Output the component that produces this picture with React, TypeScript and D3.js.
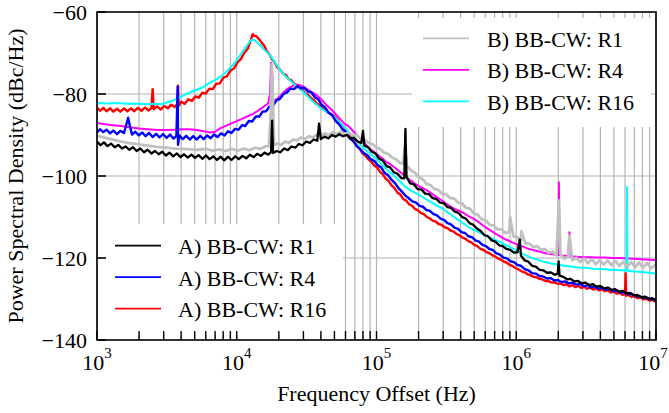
import { useEffect, useRef } from "react";
import * as d3 from "d3";

type Pt = [number, number];

// A) BB-CW traces (frequency Hz, dBc/Hz)
const aR1: Pt[] = [
  [1000, -91.6], [1060, -92.5], [1120, -91.8], [1190, -92.7], [1260, -92.1], [1340, -93.0], [1420, -92.4], [1510, -93.3],
  [1600, -92.8], [1700, -93.6], [1810, -93.0], [1920, -93.9], [2040, -93.3], [2170, -94.2], [2300, -93.6], [2450, -94.5],
  [2600, -93.9], [2760, -94.7], [2930, -94.1], [3110, -95.0], [3300, -94.3], [3510, -95.2], [3730, -94.5], [3960, -95.4],
  [4200, -94.7], [4460, -95.5], [4740, -94.8], [5030, -95.6], [5340, -94.9], [5670, -95.8], [6020, -95.0], [6400, -95.9],
  [6800, -95.2], [7220, -96.1], [7670, -95.3], [8140, -96.2], [8650, -95.3], [9180, -96.1], [9750, -95.2], [10350, -95.9],
  [11000, -95.1], [11700, -95.7], [12400, -94.8], [13200, -95.4], [14000, -94.6], [14900, -95.1], [15800, -94.3], [16800, -94.8],
  [17600, -94.2], [17900, -86.5], [18200, -94.4], [19300, -93.9], [20500, -94.2], [21800, -93.3], [23200, -93.7], [24600, -92.8],
  [26200, -93.1], [27800, -92.2], [29600, -92.5], [31400, -91.6], [33400, -91.9], [35500, -91.1], [37700, -91.4], [38800, -87.2],
  [40000, -91.0], [42500, -90.4], [45200, -90.8], [48000, -90.0], [51000, -90.4], [54200, -89.8], [57600, -90.3], [61200, -90.0],
  [65000, -90.8], [69000, -90.7], [73300, -91.6], [78000, -91.9], [80000, -89.0], [82000, -92.6], [87000, -93.0], [92500, -94.1],
  [98300, -94.5], [104500, -95.8], [111000, -96.2], [118000, -97.6], [125000, -97.9], [133000, -99.1], [141000, -99.4], [150000, -100.5],
  [158000, -100.6], [161000, -88.5], [164000, -100.2], [174000, -101.8], [185000, -102.0], [197000, -103.2], [210000, -103.3], [223000, -104.3],
  [237000, -104.4], [252000, -105.4], [268000, -105.6], [285000, -106.5], [303000, -106.6], [322000, -107.6], [342000, -107.8], [363000, -108.7],
  [386000, -109.0], [410000, -110.0], [436000, -110.4], [463000, -111.5], [492000, -111.9], [523000, -112.8], [556000, -113.4], [591000, -114.4],
  [628000, -114.7], [667000, -115.7], [709000, -116.0], [754000, -116.9], [801000, -117.1], [851000, -117.8], [905000, -118.0], [961000, -118.7],
  [1020000, -118.6], [1060000, -115.5], [1080000, -119.4], [1150000, -120.6], [1220000, -120.9], [1300000, -121.9], [1380000, -122.1], [1470000, -122.9],
  [1560000, -123.0], [1660000, -123.6], [1770000, -123.5], [1880000, -124.1], [1980000, -123.8], [2010000, -120.8], [2040000, -124.3], [2170000, -124.6],
  [2310000, -125.2], [2450000, -125.1], [2610000, -125.7], [2770000, -125.6], [2950000, -126.2], [3130000, -126.0], [3330000, -126.6], [3540000, -126.4],
  [3760000, -127.0], [4000000, -126.8], [4250000, -127.4], [4520000, -127.2], [4800000, -127.8], [5100000, -127.6], [5420000, -128.2], [5760000, -128.0],
  [6120000, -128.6], [6510000, -128.5], [6920000, -129.1], [7350000, -129.0], [7810000, -129.6], [8300000, -129.4], [8820000, -130.0], [9380000, -129.8],
  [10000000, -130.4],
];

const aR4: Pt[] = [
  [1000, -89.4], [1050, -88.6], [1110, -89.3], [1170, -88.7], [1240, -89.6], [1310, -88.9], [1390, -89.8], [1470, -89.0],
  [1560, -89.5], [1620, -87.5], [1670, -85.8], [1720, -87.8], [1780, -89.9], [1880, -89.2], [1990, -90.1], [2110, -89.4],
  [2230, -90.3], [2360, -89.5], [2500, -90.5], [2650, -89.7], [2800, -90.6], [2970, -89.8], [3150, -90.7], [3330, -89.9],
  [3530, -90.9], [3700, -90.2], [3780, -78.2], [3800, -92.4], [3880, -90.1], [4110, -91.0], [4350, -90.2], [4610, -91.1],
  [4880, -90.3], [5170, -91.1], [5480, -90.2], [5800, -91.0], [6140, -90.1], [6500, -90.8], [6880, -89.9], [7290, -90.5],
  [7720, -89.6], [8180, -90.1], [8660, -89.1], [9170, -89.5], [9710, -88.5], [10300, -88.7], [10900, -87.6], [11500, -87.8],
  [12200, -86.6], [12900, -86.7], [13700, -85.5], [14500, -85.5], [15300, -84.3], [16200, -84.2], [17200, -83.0], [18200, -82.8],
  [19300, -81.5], [20400, -81.2], [21600, -80.0], [22900, -79.6], [24200, -78.7], [25700, -78.8], [27200, -78.1], [28800, -78.6],
  [30500, -78.5], [32300, -79.4], [34200, -79.6], [36200, -80.8], [38300, -81.3], [40600, -82.7], [43000, -83.3], [45500, -84.6],
  [48200, -85.2], [51100, -86.6], [54100, -87.4], [57300, -88.7], [60700, -89.4], [64300, -90.8], [68100, -91.5], [72100, -92.7],
  [76400, -93.4], [80900, -94.4], [85700, -94.9], [90800, -95.9], [96200, -96.3], [102000, -97.4], [108000, -97.9], [114000, -99.2],
  [121000, -99.8], [128000, -100.9], [136000, -101.8], [144000, -103.0], [152000, -103.8], [161000, -104.8], [171000, -105.5], [181000, -106.2],
  [192000, -106.5], [203000, -107.3], [215000, -107.5], [228000, -108.3], [241000, -108.5], [256000, -109.3], [271000, -109.6], [287000, -110.4],
  [304000, -110.7], [322000, -111.5], [341000, -111.8], [361000, -112.6], [383000, -112.9], [405000, -113.7], [429000, -113.9], [455000, -114.7],
  [482000, -114.9], [510000, -115.7], [541000, -116.0], [573000, -116.8], [607000, -117.1], [643000, -117.8], [681000, -118.1], [722000, -118.9],
  [765000, -119.2], [810000, -119.9], [858000, -120.1], [909000, -120.8], [963000, -121.0], [1020000, -121.7], [1080000, -121.9], [1150000, -122.7],
  [1220000, -123.0], [1300000, -123.7], [1380000, -123.8], [1470000, -124.4], [1560000, -124.5], [1660000, -125.0], [1760000, -124.9], [1870000, -125.5],
  [1990000, -125.4], [2110000, -125.9], [2240000, -125.7], [2380000, -126.2], [2530000, -126.0], [2690000, -126.5], [2860000, -126.3], [3040000, -126.9],
  [3230000, -126.6], [3430000, -127.2], [3650000, -126.9], [3880000, -127.5], [4120000, -127.2], [4380000, -127.8], [4650000, -127.5], [4940000, -128.1],
  [5250000, -127.9], [5580000, -128.5], [5930000, -128.3], [6300000, -128.9], [6700000, -128.7], [7120000, -129.3], [7570000, -129.2], [8040000, -129.7],
  [8550000, -129.6], [9090000, -130.1], [9660000, -130.0], [10000000, -130.5],
];

const aR16: Pt[] = [
  [1000, -83.3], [1050, -84.1], [1110, -83.4], [1170, -84.2], [1240, -83.5], [1310, -84.3], [1390, -83.6], [1470, -84.3],
  [1560, -83.5], [1650, -84.2], [1750, -83.5], [1850, -84.2], [1960, -83.4], [2080, -84.1], [2200, -83.3], [2330, -84.0],
  [2450, -83.5], [2500, -78.8], [2550, -83.7], [2700, -83.0], [2860, -83.8], [3030, -82.9], [3210, -83.5], [3400, -82.6],
  [3600, -83.2], [3760, -82.4], [3800, -78.0], [3840, -82.9], [4000, -81.9], [4250, -82.4], [4500, -81.3], [4770, -81.7],
  [5050, -80.6], [5350, -80.9], [5670, -79.7], [6000, -79.9], [6360, -78.7], [6740, -78.8], [7140, -77.5], [7570, -77.4],
  [8020, -76.0], [8500, -75.7], [9000, -74.3], [9540, -73.8], [10100, -72.3], [10700, -71.5], [11300, -70.0], [12000, -68.9],
  [12500, -67.2], [13000, -65.4], [13300, -65.8], [13800, -65.9], [14400, -66.6], [15000, -67.4], [15700, -68.2], [16400, -69.6],
  [17100, -70.3], [17900, -71.5], [18700, -72.3], [19500, -73.5], [20400, -74.0], [21400, -75.0], [22400, -75.3], [23400, -76.3],
  [24500, -76.6], [25700, -77.5], [26900, -77.8], [28200, -78.7], [29500, -79.0], [30900, -79.8], [32400, -80.2], [34000, -81.0],
  [35600, -81.5], [37300, -82.3], [39100, -82.7], [41000, -83.5], [43000, -84.0], [45100, -84.5], [47300, -84.9], [49600, -85.4],
  [52000, -86.1], [54500, -87.0], [57100, -87.7], [59900, -88.7], [62800, -89.6], [65800, -90.6], [69000, -91.5], [72300, -92.6],
  [75800, -93.4], [79500, -94.5], [83300, -95.0], [87300, -95.9], [91500, -96.4], [96000, -97.4], [101000, -97.9], [106000, -99.0],
  [111000, -99.6], [116000, -100.6], [122000, -101.2], [128000, -102.3], [134000, -102.9], [141000, -104.0], [148000, -104.5], [155000, -105.6],
  [163000, -106.0], [171000, -106.9], [179000, -107.2], [188000, -108.0], [197000, -108.3], [207000, -109.0], [218000, -109.3], [229000, -110.0],
  [240000, -110.3], [252000, -110.9], [265000, -111.1], [278000, -111.7], [292000, -111.9], [307000, -112.5], [322000, -112.7], [338000, -113.3],
  [355000, -113.5], [373000, -114.1], [392000, -114.4], [411000, -115.0], [432000, -115.3], [454000, -115.9], [477000, -116.2], [501000, -116.8],
  [526000, -117.1], [552000, -117.7], [580000, -118.0], [609000, -118.5], [640000, -118.8], [672000, -119.3], [706000, -119.6], [741000, -120.1],
  [778000, -120.4], [817000, -120.9], [858000, -121.2], [901000, -121.7], [946000, -122.0], [993000, -122.5], [1040000, -122.8], [1100000, -123.3],
  [1150000, -123.5], [1210000, -124.0], [1270000, -124.2], [1330000, -124.6], [1400000, -124.7], [1470000, -125.1], [1540000, -125.2], [1620000, -125.6],
  [1700000, -125.6], [1790000, -126.0], [1880000, -125.9], [1970000, -126.3], [2070000, -126.2], [2170000, -126.6], [2280000, -126.4], [2400000, -126.9],
  [2520000, -126.6], [2640000, -127.1], [2780000, -126.8], [2920000, -127.3], [3060000, -127.0], [3220000, -127.5], [3380000, -127.2], [3550000, -127.7],
  [3720000, -127.4], [3910000, -127.9], [4110000, -127.6], [4310000, -128.1], [4530000, -127.9], [4750000, -128.4], [4990000, -128.2], [5240000, -128.7],
  [5500000, -128.5], [5780000, -129.0], [6000000, -128.8], [6060000, -123.7], [6120000, -129.2], [6370000, -129.0], [6690000, -129.5], [7020000, -129.3],
  [7370000, -129.8], [7740000, -129.6], [8130000, -130.1], [8540000, -129.9], [8960000, -130.4], [9410000, -130.2], [10000000, -130.7],
];

// B) BB-CW traces
const bR1: Pt[] = [
  [1000, -90.2], [1150, -90.7], [1300, -91.1], [1500, -91.6], [1700, -92.0], [2000, -92.3], [2300, -92.6], [2700, -92.9],
  [3100, -93.1], [3600, -93.3], [4100, -93.4], [4700, -93.5], [5300, -93.6], [6000, -93.4], [6700, -93.8], [7500, -93.5],
  [8300, -93.9], [9200, -93.4], [10200, -93.8], [11200, -93.3], [12300, -93.7], [13500, -93.1], [14700, -93.4], [16000, -92.8],
  [17000, -92.7], [17500, -85.0], [17800, -72.8], [18100, -80.0], [18500, -92.5], [19500, -92.1], [20800, -92.4], [22200, -91.6],
  [23700, -91.9], [25300, -91.1], [27000, -91.3], [28800, -90.6], [30700, -91.0], [32800, -90.3], [35000, -90.6], [37400, -89.9],
  [39900, -90.3], [42600, -89.6], [45500, -90.0], [48600, -89.3], [51900, -89.7], [55400, -89.2], [59100, -89.7], [63100, -89.4],
  [67400, -90.1], [71900, -90.0], [76800, -90.9], [82000, -91.1], [87500, -91.9], [93400, -92.2], [99700, -93.0], [106000, -93.4],
  [113000, -94.3], [121000, -94.6], [129000, -95.5], [138000, -95.9], [147000, -96.8], [155000, -97.0], [160000, -92.8], [165000, -97.5],
  [176000, -98.6], [188000, -99.2], [200000, -100.3], [214000, -100.8], [228000, -101.9], [243000, -102.2], [260000, -103.2], [277000, -103.4],
  [296000, -104.4], [316000, -104.5], [337000, -105.4], [360000, -105.5], [384000, -106.5], [410000, -106.7], [437000, -107.8], [467000, -108.0],
  [498000, -109.2], [531000, -109.4], [567000, -110.6], [605000, -110.8], [646000, -111.9], [689000, -112.0], [735000, -113.0], [785000, -113.0],
  [837000, -113.9], [893000, -113.7], [903000, -110.0], [953000, -114.7], [1020000, -114.9], [1080000, -115.8], [1090000, -113.5], [1160000, -116.4],
  [1240000, -116.5], [1320000, -117.3], [1410000, -117.1], [1500000, -118.0], [1600000, -117.8], [1710000, -118.8], [1820000, -118.4], [1940000, -119.4],
  [2020000, -106.0], [2070000, -119.1], [2210000, -120.2], [2360000, -119.6], [2400000, -114.5], [2520000, -120.6], [2690000, -119.9], [2870000, -121.0],
  [3060000, -120.1], [3260000, -121.3], [3480000, -120.3], [3710000, -121.5], [3960000, -120.5], [4220000, -121.6], [4510000, -120.6], [4810000, -121.8],
  [5130000, -120.7], [5470000, -121.9], [5840000, -120.9], [6230000, -122.1], [6650000, -121.0], [7090000, -122.2], [7570000, -121.1], [8070000, -122.4],
  [8610000, -121.2], [9190000, -122.5], [10000000, -121.6],
];

const bR4: Pt[] = [
  [1000, -87.1], [1150, -87.4], [1300, -87.6], [1500, -87.8], [1700, -88.1], [2000, -88.4], [2300, -88.6], [2700, -88.8],
  [3100, -88.8], [3600, -88.7], [4100, -88.6], [4600, -88.6], [5200, -88.8], [5800, -89.1], [6500, -89.4], [7000, -89.2],
  [7600, -88.4], [8200, -87.9], [9000, -87.3], [10000, -86.6], [11000, -86.0], [12000, -85.4], [13000, -84.9], [14000, -84.2],
  [15000, -83.5], [16000, -82.8], [16800, -82.3], [17300, -80.0], [17600, -72.4], [17900, -74.5], [18200, -81.5], [18800, -81.5],
  [19600, -81.1], [20500, -80.5], [21500, -79.7], [22600, -79.0], [23800, -78.4], [25000, -78.1], [26300, -77.7], [27700, -77.8],
  [29100, -78.0], [30600, -78.4], [32200, -78.9], [33900, -79.4], [35700, -79.9], [37600, -80.4], [39600, -81.1], [41700, -81.9],
  [43900, -82.7], [46200, -83.4], [48600, -84.1], [51200, -85.0], [53900, -85.8], [56700, -86.6], [59700, -87.4], [62800, -87.8],
  [66100, -88.6], [69600, -89.4], [73300, -90.2], [77200, -91.0], [81300, -91.9], [85600, -92.7], [90100, -93.4], [94900, -94.0],
  [99900, -94.6], [105000, -95.2], [111000, -95.8], [117000, -96.5], [123000, -97.0], [130000, -97.5], [137000, -98.1], [144000, -98.7],
  [152000, -99.4], [160000, -100.0], [168000, -100.6], [177000, -101.2], [187000, -101.8], [197000, -102.3], [207000, -102.7], [218000, -103.1],
  [230000, -103.5], [242000, -104.0], [255000, -104.6], [269000, -105.1], [283000, -105.6], [298000, -106.1], [314000, -106.7], [331000, -107.2],
  [348000, -107.7], [367000, -108.1], [386000, -108.4], [407000, -108.8], [428000, -109.2], [451000, -109.7], [475000, -110.1], [500000, -110.5],
  [527000, -111.0], [555000, -111.6], [585000, -112.2], [616000, -112.7], [649000, -113.2], [683000, -113.7], [720000, -114.2], [758000, -114.6],
  [798000, -115.1], [841000, -115.5], [886000, -115.8], [933000, -116.2], [982000, -116.5], [1030000, -116.8], [1090000, -117.1], [1150000, -117.4],
  [1210000, -117.7], [1270000, -117.9], [1340000, -118.1], [1410000, -118.3], [1490000, -118.5], [1570000, -118.7], [1650000, -118.9], [1740000, -119.0],
  [1830000, -119.1], [1930000, -119.2], [2000000, -119.3], [2020000, -101.5], [2040000, -119.3], [2150000, -119.4], [2350000, -119.5], [2400000, -113.7],
  [2450000, -119.6], [2700000, -119.7], [3000000, -119.8], [3400000, -119.8], [3800000, -119.9], [4300000, -119.9], [4900000, -120.0], [5500000, -120.0],
  [6200000, -120.1], [7000000, -120.2], [7900000, -120.3], [8900000, -120.4], [10000000, -120.5],
];

const bR16: Pt[] = [
  [1000, -82.2], [1200, -82.3], [1400, -82.2], [1600, -82.4], [1800, -82.3], [2000, -82.4], [2300, -82.5], [2600, -82.4],
  [2900, -82.5], [3200, -82.0], [3500, -81.6], [3900, -80.8], [4300, -80.1], [4700, -79.5], [5200, -78.9], [5700, -78.4],
  [6200, -77.6], [6800, -76.8], [7500, -76.0], [8200, -75.0], [9000, -73.6], [9800, -72.2], [10700, -70.3], [11600, -68.6],
  [12400, -67.2], [12900, -66.7], [13500, -66.9], [14200, -67.6], [15000, -68.4], [15900, -69.4], [16900, -70.2], [17900, -71.2],
  [18900, -72.5], [20000, -73.7], [21200, -74.8], [22500, -75.8], [23900, -76.6], [25300, -77.4], [26900, -78.1], [28500, -78.9],
  [30200, -79.6], [32000, -80.5], [34000, -81.4], [36000, -82.2], [38200, -82.9], [40500, -83.6], [43000, -84.2], [45600, -84.7],
  [48300, -85.2], [51200, -86.0], [54300, -86.9], [57600, -87.8], [61000, -88.6], [64700, -89.6], [68600, -90.6], [72700, -91.5],
  [77100, -92.5], [81700, -93.3], [86600, -94.1], [91800, -94.8], [97300, -95.5], [103000, -96.3], [110000, -97.3], [117000, -98.2],
  [124000, -99.0], [131000, -99.7], [139000, -100.5], [148000, -101.4], [157000, -102.3], [166000, -103.0], [176000, -103.5], [187000, -104.0],
  [199000, -104.5], [211000, -105.0], [224000, -105.6], [238000, -106.1], [252000, -106.6], [268000, -107.1], [285000, -107.6], [302000, -108.1],
  [321000, -108.8], [341000, -109.4], [362000, -110.1], [384000, -110.7], [408000, -111.3], [433000, -111.9], [460000, -112.5], [488000, -113.0],
  [518000, -113.4], [550000, -113.8], [584000, -114.3], [620000, -114.7], [658000, -115.1], [699000, -115.5], [742000, -115.9], [788000, -116.3],
  [836000, -116.8], [888000, -117.2], [943000, -117.7], [1000000, -118.1], [1060000, -118.6], [1130000, -119.1], [1200000, -119.5], [1270000, -119.9],
  [1350000, -120.2], [1440000, -120.5], [1530000, -120.8], [1620000, -121.0], [1720000, -121.2], [1830000, -121.4], [1950000, -121.5], [2070000, -121.7],
  [2200000, -121.9], [2480000, -122.1], [2800000, -122.3], [3150000, -122.4], [3560000, -122.6], [4000000, -122.7], [4500000, -122.8], [5100000, -122.9],
  [5700000, -123.0], [6150000, -123.1], [6200000, -102.7], [6250000, -123.1], [7000000, -123.3], [7900000, -123.4], [8900000, -123.6], [10000000, -123.8],
];

const yTicks = [-140, -120, -100, -80, -60];
const xDecades = [3, 4, 5, 6, 7];
const legendA = ["A) BB-CW: R1", "A) BB-CW: R4", "A) BB-CW: R16"];
const legendB = ["B) BB-CW: R1", "B) BB-CW: R4", "B) BB-CW: R16"];

const FONT = "'Liberation Serif', 'Times New Roman', serif";

const App = () => {
  const svgRef = useRef<SVGSVGElement>(null);

  useEffect(() => {
    const svg = d3.select(svgRef.current);
    svg.selectAll("*").remove();

    const margin = { top: 12, right: 13, bottom: 73, left: 97 };
    const width = 669 - margin.left - margin.right;
    const height = 413 - margin.top - margin.bottom;

    const x = d3.scaleLog().domain([1e3, 1e7]).range([0, width]);
    const y = d3.scaleLinear().domain([-140, -60]).range([height, 0]);

    const g = svg
      .append("g")
      .attr("transform", `translate(${margin.left},${margin.top})`);

    // Grid lines
    const grid = g.append("g").attr("stroke", "#b4b4b4").attr("stroke-width", 1.2);
    x.ticks().forEach((t) => {
      grid
        .append("line")
        .attr("x1", x(t))
        .attr("x2", x(t))
        .attr("y1", 0)
        .attr("y2", height);
    });
    yTicks.slice(1, -1).forEach((t) => {
      grid
        .append("line")
        .attr("x1", 0)
        .attr("x2", width)
        .attr("y1", y(t))
        .attr("y2", y(t));
    });

    // Legend backgrounds hide the grid
    g.append("rect")
      .attr("x", 3)
      .attr("y", 212)
      .attr("width", 243)
      .attr("height", 111)
      .attr("fill", "#fff");
    g.append("rect")
      .attr("x", 315)
      .attr("y", 6)
      .attr("width", 239)
      .attr("height", 109)
      .attr("fill", "#fff");

    // Traces
    g.append("clipPath")
      .attr("id", "plot-clip")
      .append("rect")
      .attr("width", width)
      .attr("height", height);

    const line = d3
      .line<Pt>()
      .x((d) => x(d[0]))
      .y((d) => y(d[1]));

    const series = [
      { data: bR4, color: "#ff00ff", w: 2 },
      { data: aR16, color: "#ff0000", w: 2.4 },
      { data: bR16, color: "#00ffff", w: 2 },
      { data: aR4, color: "#0000ff", w: 2.4 },
      { data: bR1, color: "#c0c0c0", w: 2.8 },
      { data: aR1, color: "#000000", w: 2.3 },
    ];

    const traces = g.append("g").attr("clip-path", "url(#plot-clip)");
    series.forEach((s) => {
      traces
        .append("path")
        .datum(s.data)
        .attr("d", line)
        .attr("fill", "none")
        .attr("stroke", s.color)
        .attr("stroke-width", s.w)
        .attr("stroke-linejoin", "round");
    });

    // Frame
    g.append("rect")
      .attr("width", width)
      .attr("height", height)
      .attr("fill", "none")
      .attr("stroke", "#000")
      .attr("stroke-width", 1.6);

    // Ticks (inward)
    x.ticks().forEach((t) => {
      g.append("line")
        .attr("x1", x(t))
        .attr("x2", x(t))
        .attr("y1", height)
        .attr("y2", height - 9)
        .attr("stroke", "#000")
        .attr("stroke-width", 1.4);
    });
    yTicks.forEach((t) => {
      g.append("line")
        .attr("x1", 0)
        .attr("x2", 9)
        .attr("y1", y(t))
        .attr("y2", y(t))
        .attr("stroke", "#000")
        .attr("stroke-width", 1.6);
    });

    // Tick labels
    yTicks.forEach((t) => {
      g.append("text")
        .attr("x", -10)
        .attr("y", y(t) + 8)
        .attr("text-anchor", "end")
        .attr("font-family", FONT)
        .attr("font-size", "22px")
        .attr("fill", "#000")
        .text(d3.format("d")(t));
    });
    xDecades.forEach((p, i) => {
      const last = i === xDecades.length - 1;
      const txt = g
        .append("text")
        .attr("x", x(Math.pow(10, p)) - (last ? 3 : 0))
        .attr("y", height + 30)
        .attr("text-anchor", "middle")
        .attr("font-family", FONT)
        .attr("font-size", "22px")
        .attr("fill", "#000");
      txt.append("tspan").text("10");
      txt.append("tspan").attr("dy", -12).attr("font-size", "15px").text(String(p));
    });

    // Axis titles
    g.append("text")
      .attr("x", width / 2)
      .attr("y", height + 61)
      .attr("text-anchor", "middle")
      .attr("font-family", FONT)
      .attr("font-size", "22px")
      .attr("fill", "#000")
      .text("Frequency Offset (Hz)");
    g.append("text")
      .attr("transform", `translate(${23 - margin.left},${height / 2}) rotate(-90)`)
      .attr("text-anchor", "middle")
      .attr("font-family", FONT)
      .attr("font-size", "22px")
      .attr("fill", "#000")
      .text("Power Spectral Density (dBc/Hz)");

    // Legends
    const drawLegend = (labels: string[], colors: string[], lx: number, ly: number, tx: number) => {
      labels.forEach((label, i) => {
        const yy = ly + i * 31.5;
        g.append("line")
          .attr("x1", lx)
          .attr("x2", lx + 46)
          .attr("y1", yy)
          .attr("y2", yy)
          .attr("stroke", colors[i])
          .attr("stroke-width", 1.8);
        g.append("text")
          .attr("x", tx)
          .attr("y", yy + 8.3)
          .attr("font-family", FONT)
          .attr("font-size", "22px")
          .attr("fill", "#000")
          .text(label);
      });
    };
    drawLegend(legendA, ["#000000", "#0000ff", "#ff0000"], 18, 233.7, 81);
    drawLegend(legendB, ["#c0c0c0", "#ff00ff", "#00ffff"], 326, 26.3, 390);
  }, []);

  return (
    <div style={{ position: "absolute", left: 0, top: 0 }}>
      <svg ref={svgRef} width={669} height={413} style={{ display: "block", background: "#fff" }}></svg>
    </div>
  );
};

export default App;
